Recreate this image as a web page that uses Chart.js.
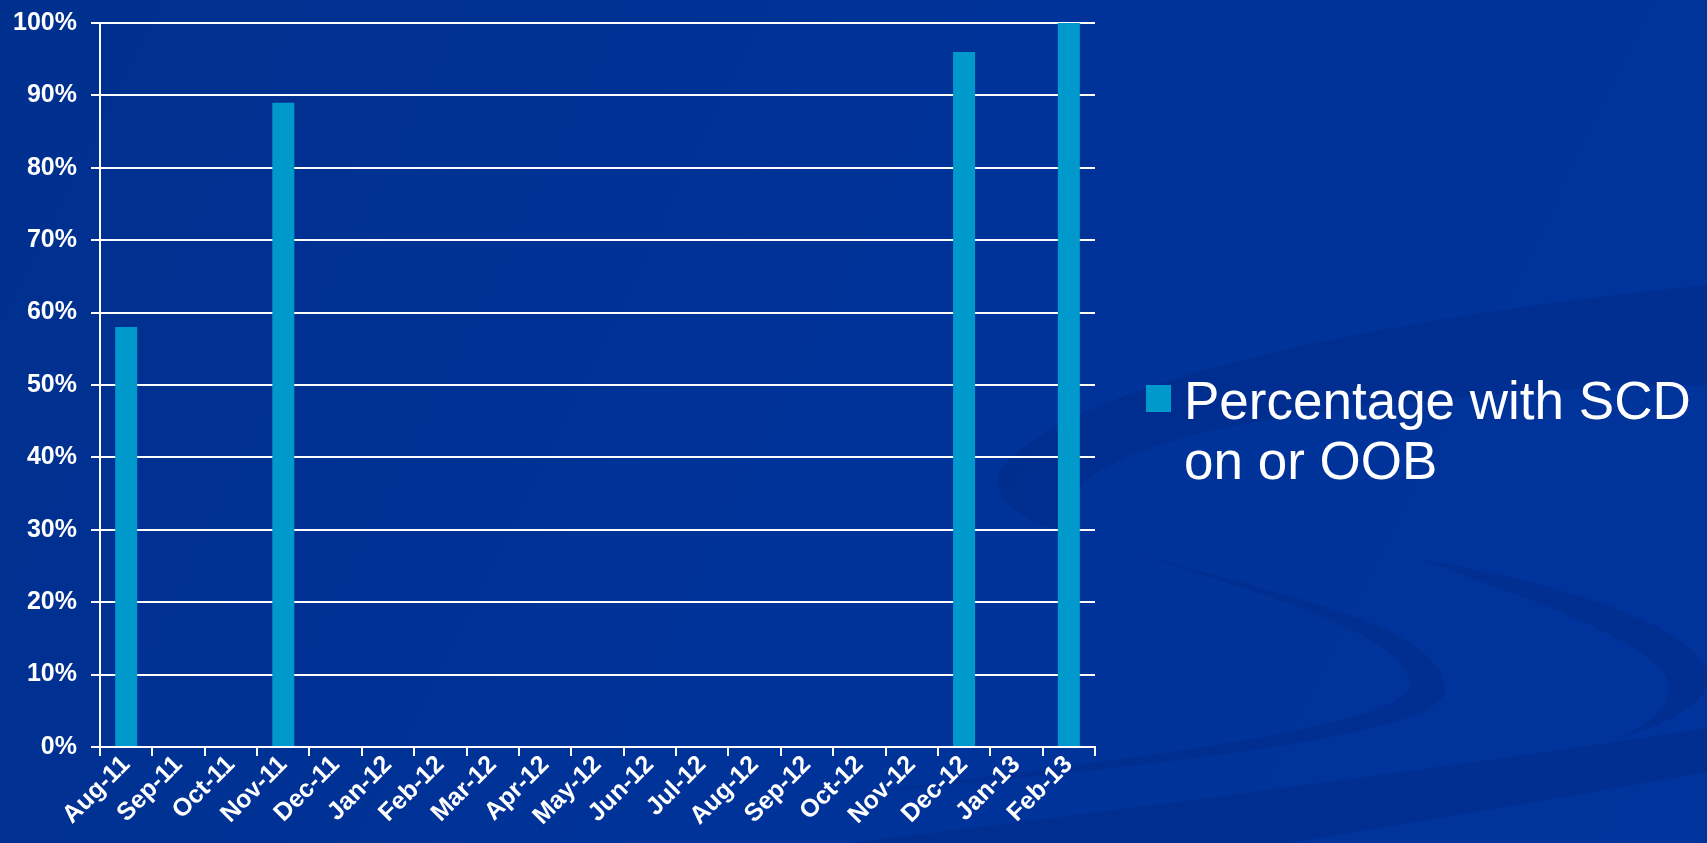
<!DOCTYPE html>
<html>
<head>
<meta charset="utf-8">
<script src="https://cdn.jsdelivr.net/npm/chart.js@4.4.1/dist/chart.umd.min.js"></script>
<style>
  html, body { margin: 0; padding: 0; background: #003399; overflow: hidden; }
  #chart { display: block; }
</style>
</head>
<body>
<canvas id="chart" width="1707" height="843"></canvas>
<script>
// data
const months = ["Aug-11", "Sep-11", "Oct-11", "Nov-11", "Dec-11", "Jan-12", "Feb-12", "Mar-12",
    "Apr-12", "May-12", "Jun-12", "Jul-12", "Aug-12", "Sep-12", "Oct-12", "Nov-12",
    "Dec-12", "Jan-13", "Feb-13"];
const scdPct = [58, null, null, 89, null, null, null, null,
    null, null, null, null, null, null, null, null,
    96, null, 100];
const seriesLabel = "Percentage with SCD on or OOB";
const yTicks = [0, 10, 20, 30, 40, 50, 60, 70, 80, 90, 100];

const BAR = "#0099cc";
const FONT = "'Liberation Sans', Arial, sans-serif";

/* background with the faint swooshes of the slide template */
const slideBg = {
    id: "slideBg",
    beforeDraw(chart) {
        const {ctx, width, height} = chart;
        ctx.save();
        const g = ctx.createLinearGradient(0, 0, width, height);
        g.addColorStop(0, "#00308e");
        g.addColorStop(0.5, "#003399");
        g.addColorStop(1, "#00349c");
        ctx.fillStyle = g;
        ctx.fillRect(0, 0, width, height);
        ctx.fillStyle = "rgba(0,28,105,0.2)";
        // upper band
        ctx.beginPath();
        ctx.moveTo(1707, 285);
        ctx.bezierCurveTo(1450, 310, 1080, 370, 1000, 470);
        ctx.bezierCurveTo(985, 505, 1040, 528, 1080, 538);
        ctx.bezierCurveTo(1040, 500, 1090, 445, 1300, 415);
        ctx.bezierCurveTo(1450, 395, 1600, 385, 1707, 385);
        ctx.closePath();
        ctx.fill();
        // middle swoosh: thin line, thick turn, tail back left
        ctx.beginPath();
        ctx.moveTo(1080, 537);
        ctx.bezierCurveTo(1250, 590, 1445, 620, 1445, 690);
        ctx.bezierCurveTo(1445, 740, 1100, 770, 850, 795);
        ctx.bezierCurveTo(1100, 760, 1415, 730, 1410, 682);
        ctx.bezierCurveTo(1400, 630, 1250, 590, 1080, 537);
        ctx.closePath();
        ctx.fill();
        // right swoosh
        ctx.beginPath();
        ctx.moveTo(1424, 560);
        ctx.bezierCurveTo(1600, 590, 1720, 640, 1707, 685);
        ctx.bezierCurveTo(1700, 710, 1650, 730, 1615, 740);
        ctx.bezierCurveTo(1660, 720, 1690, 690, 1650, 660);
        ctx.bezierCurveTo(1600, 620, 1500, 590, 1424, 560);
        ctx.closePath();
        ctx.fill();
        // bottom band
        ctx.beginPath();
        ctx.moveTo(850, 843);
        ctx.bezierCurveTo(1200, 800, 1500, 760, 1707, 728);
        ctx.lineTo(1707, 772);
        ctx.bezierCurveTo(1550, 800, 1400, 825, 1287, 843);
        ctx.closePath();
        ctx.fill();
        ctx.restore();
    }
};

/* legend on the right, wrapped onto two lines like the slide */
const sideLegend = {
    id: "sideLegend",
    afterDraw(chart) {
        const {ctx} = chart;
        const ds = chart.data.datasets[0];
        ctx.save();
        ctx.fillStyle = ds.backgroundColor;
        ctx.fillRect(1146, 385, 25, 27);
        ctx.font = "53px " + FONT;
        ctx.fillStyle = "#ffffff";
        ctx.textBaseline = "alphabetic";
        const maxW = 1707 - 1184 - 4;
        const words = ds.label.split(" ");
        const lines = [];
        let cur = "";
        for (const w of words) {
            const test = cur ? cur + " " + w : w;
            if (ctx.measureText(test).width > maxW && cur) {
                lines.push(cur);
                cur = w;
            } else cur = test;
        }
        if (cur) lines.push(cur);
        lines.forEach((ln, i) => ctx.fillText(ln, 1184, 419 + i * 60));
        ctx.restore();
    }
};

new Chart(document.getElementById("chart"), {
    type: "bar",
    data: {
        labels: months,
        datasets: [{
            label: seriesLabel,
            data: scdPct,
            backgroundColor: BAR,
            borderWidth: 0,
            barPercentage: 0.42,
            categoryPercentage: 1
        }]
    },
    options: {
        responsive: false,
        animation: false,
        layout: {padding: {top: 23, right: 612, left: 0, bottom: 0}},
        plugins: {legend: {display: false}, tooltip: {enabled: false}},
        scales: {
            x: {
                grid: {display: true, drawOnChartArea: false, drawTicks: true, tickLength: 9,
                    color: "#ffffff", lineWidth: 2, offset: true},
                border: {display: true, color: "#ffffff", width: 2},
                ticks: {color: "#ffffff", font: {family: FONT, size: 25, weight: "bold"},
                    minRotation: 45, maxRotation: 45, autoSkip: false, padding: -6},
                afterFit(scale) { scale.height = 96; }
            },
            y: {
                min: 0, max: 100,
                afterBuildTicks(scale) { scale.ticks = yTicks.map(v => ({value: v})); },
                grid: {color: "#ffffff", lineWidth: 2, tickLength: 9, drawTicks: true},
                border: {display: true, color: "#ffffff", width: 2},
                ticks: {color: "#ffffff", font: {family: FONT, size: 25, weight: "bold"}, padding: 14,
                    callback: v => v + "%"},
                afterFit(scale) {
                    scale.width = 100;
                    scale.paddingTop = 12;
                    scale.paddingBottom = 12;
                }
            }
        }
    },
    plugins: [slideBg, sideLegend]
});
</script>
</body>
</html>
